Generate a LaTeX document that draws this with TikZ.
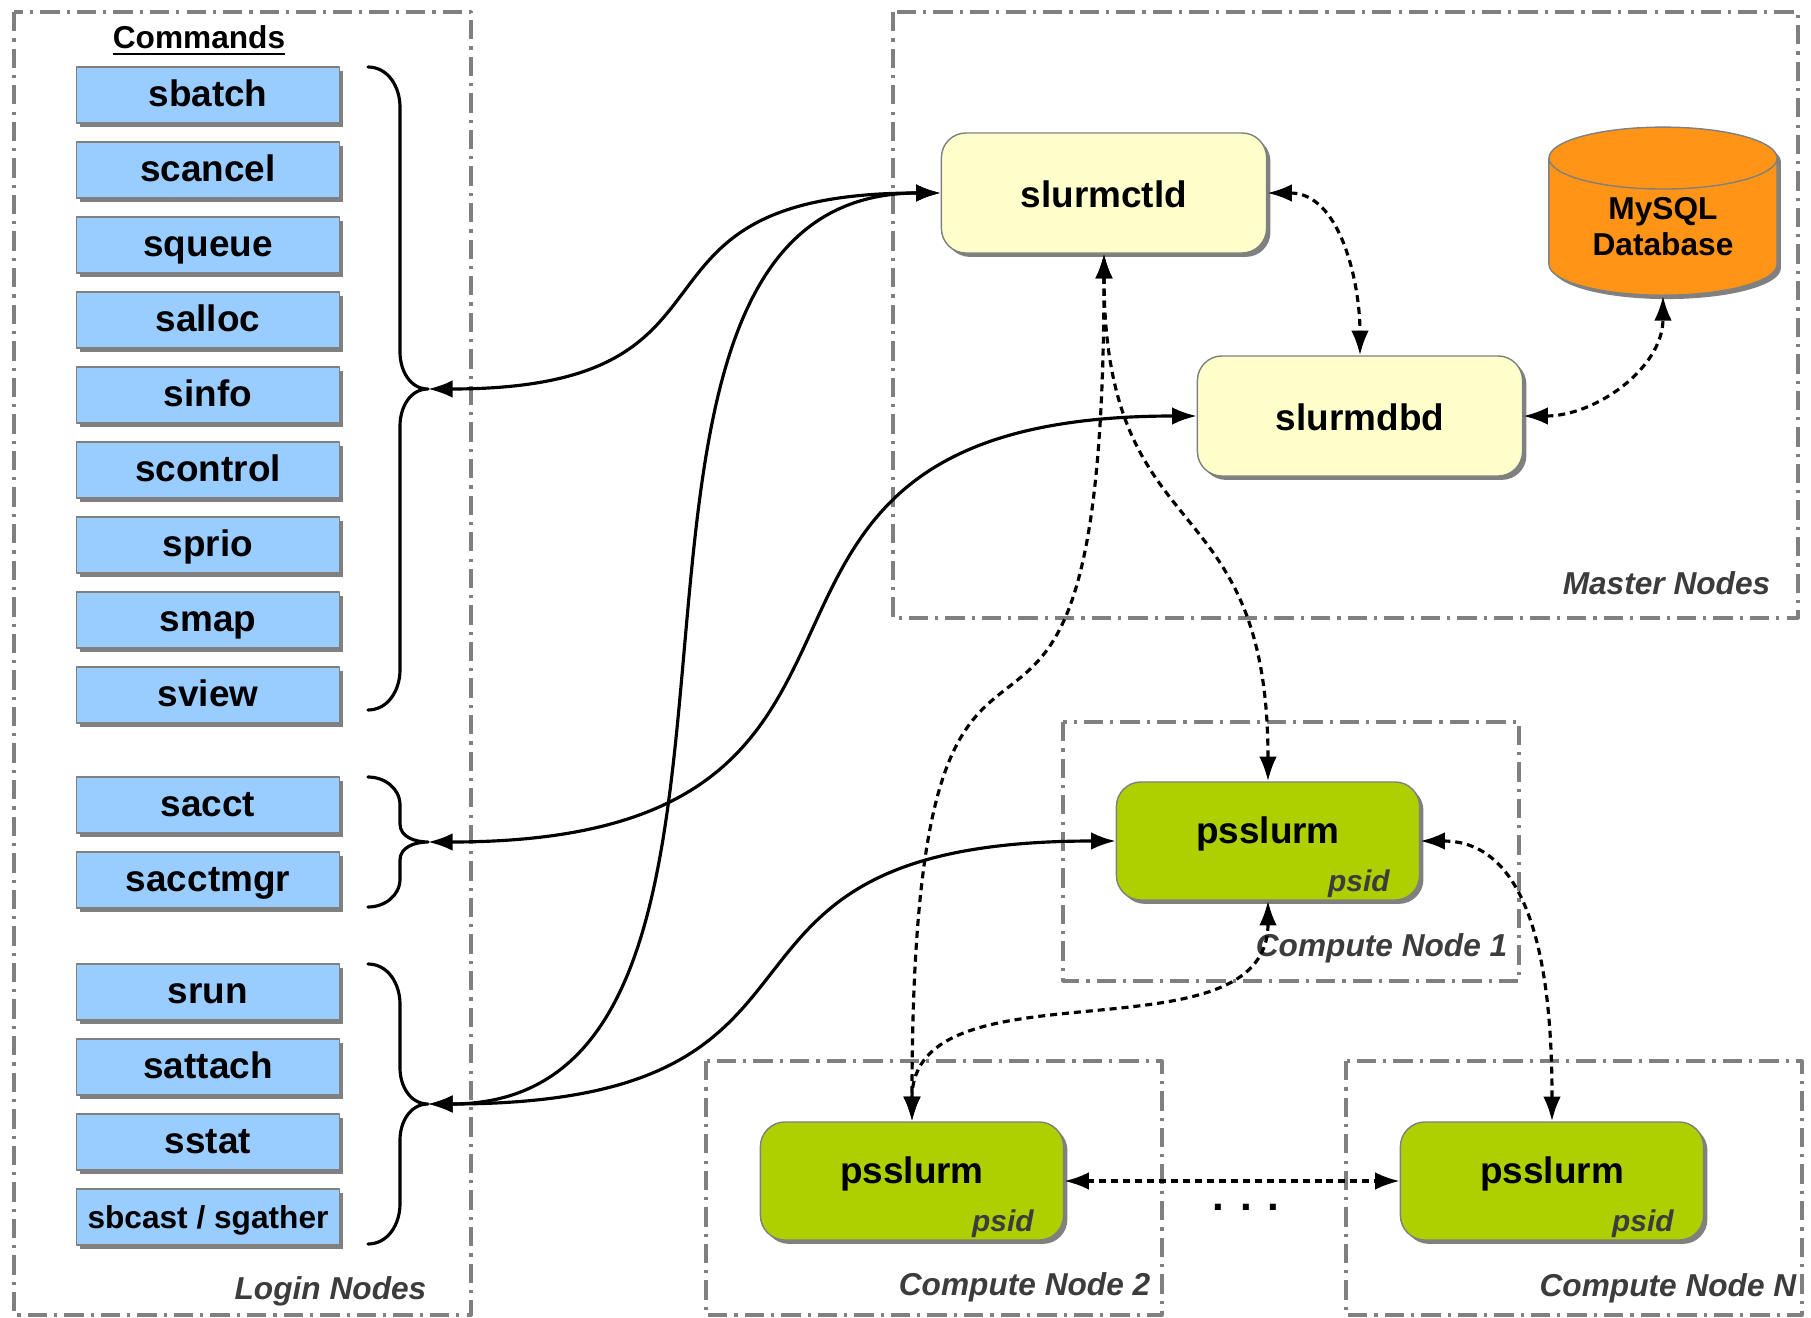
\documentclass[tikz,border=0pt]{standalone}
\usepackage{fontspec}
\setmainfont{Liberation Sans}
\usepackage{tikz}
\usetikzlibrary{arrows.meta}
\usetikzlibrary{shapes.geometric}
\usetikzlibrary{shadows}
\tikzset{>={Latex[length=7pt,width=5pt]}}
\definecolor{cmdblue}{HTML}{99CCFF}
\definecolor{daemonyellow}{HTML}{FFFFCC}
\definecolor{psgreen}{HTML}{AECF00}
\definecolor{dborange}{HTML}{FF9416}
\definecolor{framegray}{HTML}{808080}
\definecolor{labelgray}{HTML}{3C3C3C}

\begin{document}
\begin{tikzpicture}[line cap=round,line join=round,x=0.01cm,y=-0.01cm,
	dshadow/.style={drop shadow={shadow xshift=1.1pt,shadow yshift=-1.1pt,fill=gray,opacity=1}},
	cmd/.style={draw=gray,fill=cmdblue,dshadow,minimum width=2.63cm,minimum height=0.56cm,inner sep=0pt,text height=0.28cm,text depth=0.06cm,font=\fontsize{10.5}{12}\selectfont\bfseries},
	daemon/.style={draw=gray,fill=daemonyellow,dshadow,rounded corners=7pt,minimum width=3.25cm,minimum height=1.2cm,inner sep=0pt,text height=0.36cm,text depth=0.08cm,font=\fontsize{10.5}{12}\selectfont\bfseries},
	psnode/.style={daemon,fill=psgreen,minimum width=3.03cm,minimum height=1.18cm,text height=0.27cm,text depth=0.23cm},
	psid/.style={font=\fontsize{8.5}{10}\selectfont\bfseries\itshape,text=labelgray,inner sep=0pt,anchor=base east},
	db/.style={cylinder,shape border rotate=90,aspect=0.44,draw=gray,fill=dborange,dshadow,minimum width=2.28cm,minimum height=1.68cm,inner sep=0pt,align=center,font=\fontsize{9}{10.2}\selectfont\bfseries},
	grp/.style={draw=framegray,line width=0.9pt,line cap=butt,dash pattern=on 5.5pt off 2pt on 0.9pt off 2pt},
	grplabel/.style={font=\fontsize{9}{11}\selectfont\bfseries\itshape,text=labelgray,inner sep=0pt,anchor=east},
	bracepath/.style={line width=0.9pt},
	link/.style={<->,line width=0.9pt},
	dlink/.style={<->,line width=0.9pt,line cap=butt,dash pattern=on 2pt off 1.4pt}]
	\useasboundingbox (0,0) rectangle (1811,1318);
	\draw[grp] (14,12) rectangle (471,1315);
	\draw[grp] (893,12) rectangle (1798,618);
	\draw[grp] (1063,722) rectangle (1519,981);
	\draw[grp] (706,1061) rectangle (1162,1315);
	\draw[grp] (1346,1061) rectangle (1802,1315);
	\node[grplabel] (loginlbl) at (427,1291) {Login Nodes};
	\node[grplabel] (masterlbl) at (1771,583) {Master Nodes};
	\node[grplabel] (cnonelbl) at (1508,948) {Compute Node 1};
	\node[grplabel] (cntwolbl) at (1151,1287) {Compute Node 2};
	\node[grplabel] (cnnlbl) at (1797,1288) {Compute Node N};
	\node[font=\fontsize{9}{11}\selectfont\bfseries,inner sep=0pt] (cmdhead) at (199,41) {\underline{Commands}};
	\foreach \nm/\y in {sbatch/95,scancel/170,squeue/245,salloc/320,sinfo/395,scontrol/470,sprio/545,smap/620,sview/695,sacct/805,sacctmgr/880,srun/992,sattach/1067,sstat/1142}
	\node[cmd] (\nm) at (208,\y) {\nm};
	\node[cmd,font=\fontsize{9}{11}\selectfont\bfseries] (sbcast) at (208,1217) {sbcast / sgather};
	\coordinate (brA) at (428,389);
	\coordinate (brB) at (428,842);
	\coordinate (brC) at (428,1104);
	\draw[bracepath] (368,67) to[out=0,in=90] (400,107) -- (400,352) to[out=-90,in=180] (brA) to[out=180,in=90] (400,426) -- (400,670) to[out=-90,in=0] (368,710);
	\draw[bracepath] (368,777) to[out=0,in=90] (400,805) -- (400,824) to[out=-90,in=180] (brB) to[out=180,in=90] (400,860) -- (400,879) to[out=-90,in=0] (368,907);
	\draw[bracepath] (368,964) to[out=0,in=90] (400,1004) -- (400,1068) to[out=-90,in=180] (brC) to[out=180,in=90] (400,1140) -- (400,1204) to[out=-90,in=0] (368,1244);
	\node[daemon] (ctld) at (1104,193) {slurmctld};
	\node[daemon] (dbd) at (1360,416) {slurmdbd};
	\node[db] (mysql) at (1663,227) {MySQL\\Database};
	\node[psnode] (ps1) at (1268,841) {psslurm};
	\node[psnode] (ps2) at (912,1181) {psslurm};
	\node[psnode] (psN) at (1552,1181) {psslurm};
	\node[psid] (psidone) at ([shift={(-30,-9)}]ps1.south east) {psid};
	\node[psid] (psidtwo) at ([shift={(-30,-9)}]ps2.south east) {psid};
	\node[psid] (psidn) at ([shift={(-30,-9)}]psN.south east) {psid};
	\node[font=\fontsize{12}{14}\selectfont\bfseries,inner sep=0pt] (dots) at (1246,1207) {. . .};
	\draw[link] (brA) to[out=0,in=180,looseness=1.6] (ctld.west);
	\draw[link] (brB) to[out=0,in=180,looseness=1.6] (dbd.west);
	\draw[link] (brC) to[out=0,in=180] (ctld.west);
	\draw[link] (brC) to[out=0,in=180,looseness=1.6] (ps1.west);
	\draw[dlink] (ctld.east) to[out=0,in=90] (dbd.north);
	\draw[dlink] (dbd.east) to[out=0,in=-90] (mysql.south);
	\draw[dlink] (ctld.south) to[out=-90,in=90,looseness=1.4] (ps1.north);
	\draw[dlink] (ctld.south) to[out=-90,in=90,looseness=2] (ps2.north);
	\draw[dlink] (ps1.south) to[out=-90,in=90] (ps2.north);
	\draw[dlink] (ps1.east) to[out=0,in=90] (psN.north);
	\draw[dlink] (ps2.east) -- (psN.west);
\end{tikzpicture}
\end{document}
